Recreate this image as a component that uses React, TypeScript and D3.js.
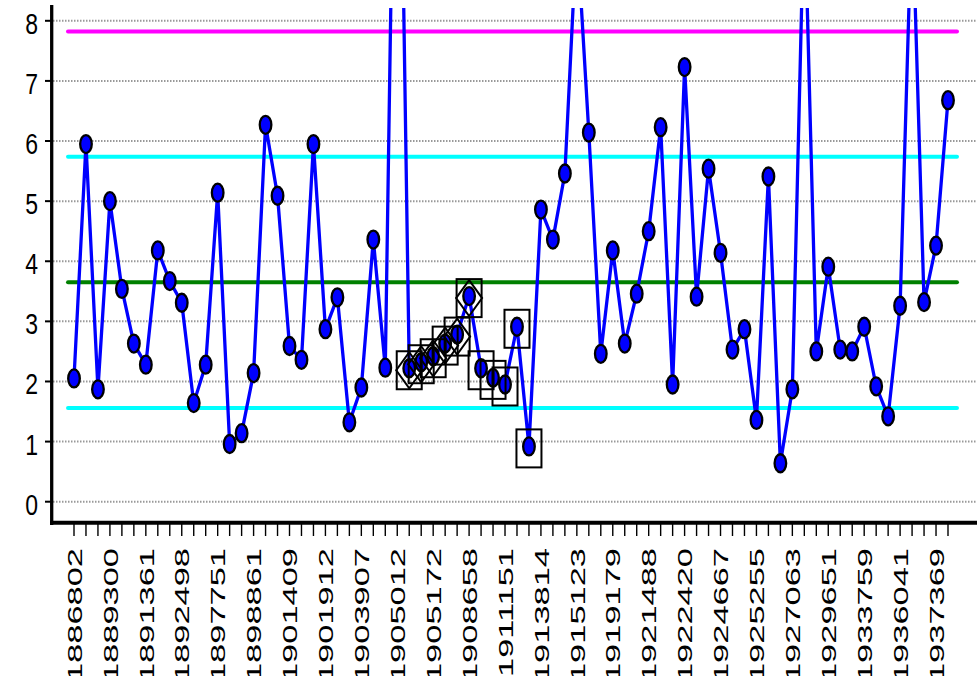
import React from "react";
import * as d3 from "d3";

const values: number[] = [
  2.05, 5.95, 1.87, 5.0, 3.54, 2.63, 2.28, 4.18, 3.67, 3.31,
  1.64, 2.28, 5.14, 0.96, 1.14, 2.14, 6.27, 5.09, 2.59, 2.36,
  5.95, 2.87, 3.4, 1.32, 1.9, 4.36, 2.23, 15.3, 2.22, 2.32,
  2.42, 2.63, 2.78, 3.42, 2.22, 2.06, 1.95, 2.91, 0.92, 4.86,
  4.36, 5.46, 9.5, 6.14, 2.46, 4.18, 2.63, 3.46, 4.5, 6.23,
  1.95, 7.23, 3.41, 5.54, 4.14, 2.53, 2.87, 1.36, 5.41, 0.64,
  1.87, 10.1, 2.5, 3.91, 2.53, 2.5, 2.91, 1.92, 1.42, 3.26,
  10.0, 3.32, 4.26, 6.68,
];

const tickLabels: string[] = [
  "1886802", "1889300", "1891361", "1892498", "1897751", "1898861",
  "1901409", "1901912", "1903907", "1905012", "1905172", "1908658",
  "1911151", "1913814", "1915123", "1919179", "1921488", "1922420",
  "1924667", "1925255", "1927063", "1929651", "1933759", "1936041",
  "1937369",
];
const labelEvery = 3;

const yTicks: number[] = [0, 1, 2, 3, 4, 5, 6, 7, 8];

const centerLine = 3.65;
const ucl = 5.74;
const lcl = 1.56;
const extLimit = 7.82;

// flagged points
const boxedIdx: number[] = [28, 29, 30, 31, 32, 33, 34, 35, 36, 37, 38];
const diamondIdx: number[] = [28, 29, 30, 31, 32, 33];

const W = 977;
const H = 676;

export default function App() {
  const x = d3.scaleLinear().domain([0, values.length - 1]).range([74, 948]);
  const y = d3.scaleLinear().domain([0, 8]).range([501.7, 20.8]);

  const line = d3
    .line<number>()
    .x((_, i) => x(i))
    .y((d) => y(d));

  const ctrl = [
    { v: extLimit, c: "#ff00ff" },
    { v: ucl, c: "#00ffff" },
    { v: lcl, c: "#00ffff" },
    { v: centerLine, c: "#008000" },
  ];

  const font = "'Liberation Sans', Arial, sans-serif";

  return (
    <svg
      width={W}
      height={H}
      style={{ position: "absolute", left: 0, top: 0, background: "#fff" }}
    >
      <defs>
        <clipPath id="plotClip">
          <rect x={52} y={8} width={W - 52} height={515} />
        </clipPath>
      </defs>
      <rect x={0} y={0} width={W} height={H} fill="#fff" />

      {/* grid */}
      {yTicks.map((t) => (
        <line
          key={"g" + t}
          x1={53}
          x2={W}
          y1={y(t)}
          y2={y(t)}
          stroke="#999"
          strokeWidth={2}
          strokeDasharray="1.5 1.5"
        />
      ))}

      {/* control lines */}
      {ctrl.map((c, i) => (
        <line
          key={"c" + i}
          x1={x(-0.5)}
          x2={x(values.length - 1 + 0.75)}
          y1={y(c.v)}
          y2={y(c.v)}
          stroke={c.c}
          strokeWidth={4}
          strokeLinecap="round"
        />
      ))}

      <g clipPath="url(#plotClip)">
        <path d={line(values) || ""} fill="none" stroke="#0000ff" strokeWidth={3.3} strokeLinejoin="round" />
        {values.map((v, i) => (
          <ellipse
            key={"p" + i}
            cx={x(i)}
            cy={y(v)}
            rx={5.8}
            ry={9}
            fill="#0000ff"
            stroke="#000"
            strokeWidth={2.3}
          />
        ))}
        {diamondIdx.map((i) => {
          const cx = x(i);
          const cy = y(values[i]) + 2;
          return (
            <path
              key={"d" + i}
              d={`M${cx},${cy - 18} L${cx + 13},${cy} L${cx},${cy + 18} L${cx - 13},${cy} Z`}
              fill="none"
              stroke="#000"
              strokeWidth={2}
            />
          );
        })}
        {boxedIdx.map((i) => {
          const cx = x(i);
          const cy = y(values[i]) + 2;
          return (
            <rect
              key={"b" + i}
              x={cx - 12.5}
              y={cy - 19}
              width={25}
              height={38}
              fill="none"
              stroke="#000"
              strokeWidth={2}
            />
          );
        })}
      </g>

      {/* y axis */}
      <line x1={51.7} x2={51.7} y1={5} y2={525} stroke="#000" strokeWidth={3.3} />
      {yTicks.map((t) => (
        <g key={"yt" + t}>
          <line x1={45} x2={52} y1={y(t)} y2={y(t)} stroke="#000" strokeWidth={2} />
          <g transform={`translate(38, ${y(t)}) scale(1, 1.25)`}>
            <text x={0} y={10.4} textAnchor="end" fontFamily={font} fontSize={23} fill="#000">
              {t}
            </text>
          </g>
        </g>
      ))}

      {/* x axis */}
      <line x1={50} x2={W} y1={522.8} y2={522.8} stroke="#000" strokeWidth={4} />
      {values.map((_, i) => (
        <line key={"xt" + i} x1={x(i)} x2={x(i)} y1={524} y2={536} stroke="#000" strokeWidth={1.4} />
      ))}
      {tickLabels.map((lab, k) => {
        const xi = x(k * labelEvery);
        return (
          <g key={"xl" + k} transform={`translate(${xi + 7.7}, 548) rotate(-90) scale(1.64, 1)`}>
            <text x={0} y={0} textAnchor="end" fontFamily={font} fontSize={21} fill="#000">
              {lab}
            </text>
          </g>
        );
      })}
    </svg>
  );
}
